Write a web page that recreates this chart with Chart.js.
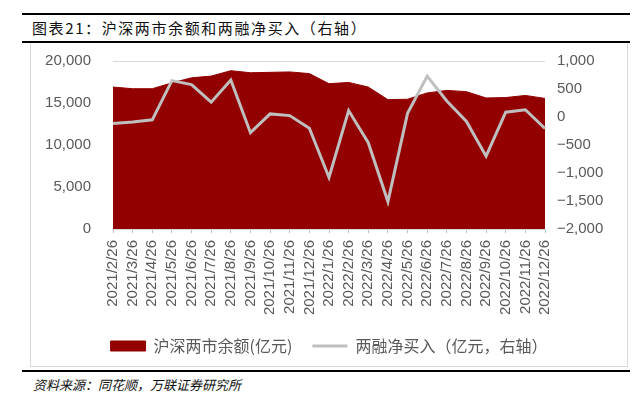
<!DOCTYPE html>
<html>
<head>
<meta charset="utf-8">
<script src="https://cdn.jsdelivr.net/npm/chart.js@4.4.1/dist/chart.umd.min.js"></script>
<style>
  body { margin: 0; width: 644px; height: 399px; background: #fff; position: relative; overflow: hidden; font-family: "Noto Sans CJK SC", sans-serif; }
  .rule { position: absolute; left: 22px; width: 608px; height: 2px; background: #000; }
  #title { position: absolute; left: 32px; top: 18px; font-size: 15px; color: #111; line-height: 20px; letter-spacing: 1.6px; }
  #frame { position: absolute; left: 30px; top: 43px; width: 596px; height: 323px; border: 1px solid #d9d9d9; border-top: none; }
  #chartBox { position: absolute; left: 31px; top: 43px; width: 596px; height: 321px; }
  #source { position: absolute; left: 33px; top: 376px; font-size: 13px; font-style: italic; color: #111; line-height: 18px; }
</style>
</head>
<body>
<div class="rule" style="top:13px"></div>
<div id="title">图表21：沪深两市余额和两融净买入（右轴）</div>
<div class="rule" style="top:41px"></div>
<div id="frame"></div>
<div id="chartBox"><canvas id="chart" width="596" height="321"></canvas></div>
<div class="rule" style="top:370px"></div>
<div id="source">资料来源：同花顺，万联证券研究所</div>

<script>
// Month labels
const months = [
    '2021/2/26', '2021/3/26', '2021/4/26', '2021/5/26', '2021/6/26', '2021/7/26',
    '2021/8/26', '2021/9/26', '2021/10/26', '2021/11/26', '2021/12/26',
    '2022/1/26', '2022/2/26', '2022/3/26', '2022/4/26', '2022/5/26', '2022/6/26',
    '2022/7/26', '2022/8/26', '2022/9/26', '2022/10/26', '2022/11/26', '2022/12/26'
];

// Margin balance (left axis, 亿元)
const balance = [
    16900, 16700, 16700, 17400, 18000, 18200, 18850, 18600, 18650, 18700, 18500,
    17300, 17450, 16900, 15400, 15450, 16200, 16500, 16350, 15600, 15650, 15900, 15550
];

// Net buying (right axis, 亿元)
const netBuy = [
    -115, -90, -50, 650, 580, 265, 660, -280, 55, 25, -200,
    -1080, 115, -460, -1510, 65, 730, 285, -80, -700, 85, 130, -205
];

const balanceName = '沪深两市余额(亿元)';
const netBuyName = '两融净买入（亿元，右轴）';

const textGray = '#595959';
const numFont = { family: '"Liberation Sans", Arial, sans-serif', size: 15 };

function fmt(v) {
    const s = Math.abs(v).toLocaleString('en-US');
    return v < 0 ? '\u2212' + s : s;
}

const ctx = document.getElementById('chart').getContext('2d');
new Chart(ctx, {
    type: 'line',
    data: {
        labels: months,
        datasets: [
            {
                label: balanceName,
                data: balance,
                yAxisID: 'y',
                fill: 'origin',
                backgroundColor: '#920000',
                borderColor: '#920000',
                borderWidth: 1,
                pointRadius: 0,
                pointStyle: 'rect',
                tension: 0,
                order: 2
            },
            {
                label: netBuyName,
                data: netBuy,
                yAxisID: 'y1',
                fill: false,
                borderColor: '#bfbfbf',
                backgroundColor: '#bfbfbf',
                borderWidth: 3,
                pointRadius: 0,
                pointStyle: 'line',
                tension: 0,
                order: 1
            }
        ]
    },
    options: {
        responsive: false,
        animation: false,
        layout: { padding: { top: 18, left: 0, right: 0, bottom: 0 } },
        plugins: {
            tooltip: { enabled: false },
            legend: {
                position: 'bottom',
                labels: {
                    usePointStyle: true,
                    pointStyleWidth: 35,
                    boxHeight: 10,
                    color: textGray,
                    padding: 20,
                    font: { family: '"Noto Sans CJK SC", sans-serif', size: 16 },
                    sort: (a, b) => a.datasetIndex - b.datasetIndex
                }
            }
        },
        scales: {
            x: {
                offset: false,
                grid: { drawOnChartArea: false, color: '#bfbfbf', tickLength: 4 },
                border: { color: '#d9d9d9' },
                ticks: {
                    color: textGray,
                    font: numFont,
                    maxRotation: 90,
                    minRotation: 90,
                    autoSkip: false,
                    padding: 7
                },
                afterFit: s => { s.height = 89; }
            },
            y: {
                position: 'left',
                min: 0,
                max: 20000,
                // spacing between labels and plot comes from an invisible tick
                grid: { color: '#d9d9d9', tickColor: 'rgba(0,0,0,0)', tickLength: 22 },
                border: { display: false },
                ticks: {
                    stepSize: 5000,
                    color: textGray,
                    font: numFont,
                    padding: 0,
                    callback: v => fmt(v)
                },
                afterFit: s => { s.width = 82; }
            },
            y1: {
                position: 'right',
                min: -2000,
                max: 1000,
                grid: { drawOnChartArea: false, tickColor: 'rgba(0,0,0,0)', tickLength: 12 },
                border: { display: false },
                ticks: {
                    stepSize: 500,
                    color: textGray,
                    font: numFont,
                    padding: 0,
                    callback: v => fmt(v)
                },
                afterFit: s => { s.width = 82; }
            }
        }
    }
});
</script>
</body>
</html>
